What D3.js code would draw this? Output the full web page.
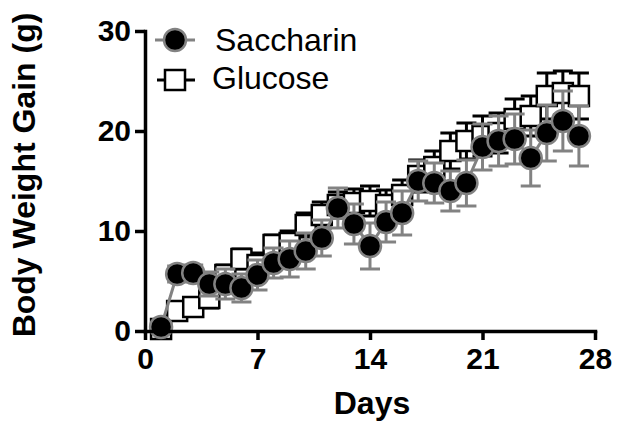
<!DOCTYPE html>
<html>
<head>
<meta charset="utf-8">
<script src="https://cdn.jsdelivr.net/npm/d3@7"></script>
<style>
  body { margin: 0; background: #fff; }
  svg { display: block; font-family: "Liberation Sans", Arial, sans-serif; }
</style>
</head>
<body>
<svg width="622" height="428"></svg>
<script>
// values (g), days 1..27
const days = d3.range(1, 28);
const saccharinMean = [0.4, 5.7, 5.8, 4.7, 4.7, 4.3, 5.6, 6.8, 7.2, 8.0, 9.3, 12.3, 10.7, 8.5,
  10.9, 11.8, 15.0, 14.8, 14.0, 14.8, 18.4, 19.0, 19.2, 17.3, 19.8, 21.0, 19.5];
const saccharinSem = [0.3, 0.8, 0.8, 1.2, 1.5, 1.4, 1.5, 1.5, 1.8, 1.8, 1.8, 2.0, 2.0, 2.3,
  2.0, 2.2, 2.0, 2.0, 2.0, 2.3, 2.3, 2.5, 2.5, 2.8, 2.8, 3.0, 3.0];
const glucoseMean = [0.2, 2.0, 2.4, 3.3, 5.6, 7.2, 6.6, 8.6, 8.8, 10.6, 11.6, 12.6, 12.8, 13.0,
  12.6, 13.6, 15.5, 16.4, 18.0, 19.0, 19.5, 19.8, 21.2, 21.5, 23.5, 23.8, 23.5];
const glucoseSem = [0.2, 0.6, 0.8, 1.0, 1.0, 1.0, 1.2, 1.0, 1.2, 1.2, 1.3, 1.3, 1.4, 1.5,
  1.5, 1.5, 1.6, 1.6, 1.8, 1.8, 2.0, 2.0, 2.0, 2.0, 2.3, 2.2, 2.3];
const xTicks = [0, 7, 14, 21, 28];
const yTicks = [0, 10, 20, 30];

const svg = d3.select('svg');
const grey = '#828282';

const x = d3.scaleLinear().domain([0, 28]).range([145, 595]);
const y = d3.scaleLinear().domain([0, 30]).range([331, 31]);

const sacc = days.map((d, i) => ({ day: d, mean: saccharinMean[i], sem: saccharinSem[i] }));
const gluc = days.map((d, i) => ({ day: d, mean: glucoseMean[i], sem: glucoseSem[i] }));

const line = d3.line().x(d => x(d.day)).y(d => y(d.mean));
const cap = 10;

function errorBars(sel, data, color) {
  const g = sel.append('g')
    .attr('stroke', color)
    .attr('stroke-width', 3)
    .attr('fill', 'none');
  data.forEach(d => {
    const cx = x(d.day);
    g.append('line').attr('x1', cx).attr('x2', cx)
      .attr('y1', y(d.mean - d.sem)).attr('y2', y(d.mean + d.sem));
    [d.mean - d.sem, d.mean + d.sem].forEach(v => {
      g.append('line').attr('x1', cx - cap).attr('x2', cx + cap)
        .attr('y1', y(v)).attr('y2', y(v));
    });
  });
}

// Glucose
svg.append('path')
  .datum(gluc)
  .attr('d', line)
  .attr('fill', 'none')
  .attr('stroke', '#000')
  .attr('stroke-width', 3);
errorBars(svg, gluc, '#000');
svg.append('g').selectAll('rect')
  .data(gluc).enter().append('rect')
  .attr('x', d => x(d.day) - 10)
  .attr('y', d => y(d.mean) - 10)
  .attr('width', 20)
  .attr('height', 20)
  .attr('fill', '#fff')
  .attr('stroke', '#000')
  .attr('stroke-width', 2.5);

// Saccharin
svg.append('path')
  .datum(sacc)
  .attr('d', line)
  .attr('fill', 'none')
  .attr('stroke', grey)
  .attr('stroke-width', 3);
errorBars(svg, sacc, grey);
svg.append('g').selectAll('circle')
  .data(sacc).enter().append('circle')
  .attr('cx', d => x(d.day))
  .attr('cy', d => y(d.mean))
  .attr('r', 11)
  .attr('fill', '#000')
  .attr('stroke', grey)
  .attr('stroke-width', 2.5);

// axes
const xAxis = svg.append('g')
  .attr('transform', `translate(0,${y(0)})`)
  .call(d3.axisBottom(x).tickValues(xTicks).tickSize(9).tickSizeOuter(0).tickPadding(8));
const yAxis = svg.append('g')
  .attr('transform', `translate(${x(0)},0)`)
  .call(d3.axisLeft(y).tickValues(yTicks).tickSize(10).tickSizeOuter(0).tickPadding(4));

[xAxis, yAxis].forEach(a => {
  a.attr('font-size', null);
  a.select('.domain').attr('stroke-width', 3.5).attr('stroke-linecap', 'square');
  a.selectAll('.tick line').attr('stroke-width', 3.5);
  a.selectAll('.tick text')
    .attr('fill', '#000')
    .style('font-size', '30px')
    .style('font-weight', 'bold')
    .style('font-family', '"Liberation Sans", Arial, sans-serif');
});

svg.append('text')
  .attr('x', 372)
  .attr('y', 414)
  .attr('text-anchor', 'middle')
  .style('font-size', '32px')
  .style('font-weight', 'bold')
  .text('Days');

svg.append('text')
  .attr('transform', 'translate(35,175) rotate(-90)')
  .attr('text-anchor', 'middle')
  .style('font-size', '32px')
  .style('font-weight', 'bold')
  .text('Body Weight Gain (g)');

// legend
const legend = svg.append('g');
legend.append('line')
  .attr('x1', 155).attr('x2', 195).attr('y1', 40).attr('y2', 40)
  .attr('stroke', grey).attr('stroke-width', 3);
legend.append('circle')
  .attr('cx', 175).attr('cy', 40).attr('r', 11)
  .attr('fill', '#000').attr('stroke', grey).attr('stroke-width', 2.5);
legend.append('text')
  .attr('x', 215).attr('y', 51)
  .style('font-size', '32px')
  .text('Saccharin');

legend.append('line')
  .attr('x1', 157).attr('x2', 195).attr('y1', 80).attr('y2', 80)
  .attr('stroke', '#000').attr('stroke-width', 3);
legend.append('rect')
  .attr('x', 165).attr('y', 70).attr('width', 20).attr('height', 20)
  .attr('fill', '#fff').attr('stroke', '#000').attr('stroke-width', 2.5);
legend.append('text')
  .attr('x', 212).attr('y', 89)
  .style('font-size', '32px')
  .text('Glucose');
</script>
</body>
</html>
